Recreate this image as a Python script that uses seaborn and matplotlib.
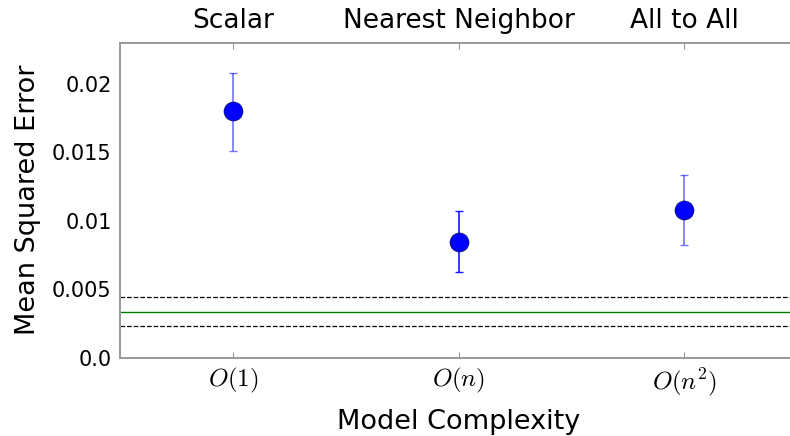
import matplotlib
matplotlib.use("Agg")
import matplotlib.pyplot as plt
import seaborn as sns
import pandas as pd
import numpy as np

categories = ["Scalar", "Nearest Neighbor", "All to All"]
complexity_labels = [r"$O(1)$", r"$O(n)$", r"$O(n^2)$"]
mse = [0.0180, 0.00842, 0.01080]
err_low = [0.0029, 0.00220, 0.00255]
err_high = [0.0028, 0.00225, 0.00250]
baseline = 0.00335
baseline_low = 0.00231
baseline_high = 0.00444
bar_alpha = [0.55, 0.9, 0.55]

sns.set_style("white")
plt.rcParams["mathtext.fontset"] = "cm"
plt.rcParams["font.family"] = ["DejaVu Sans"]
plt.rcParams["text.color"] = "black"
plt.rcParams["xtick.labelcolor"] = "black"
plt.rcParams["ytick.labelcolor"] = "black"
plt.rcParams["axes.labelcolor"] = "black"

fig = plt.figure(figsize=(7.9, 4.36), dpi=100)
ax = fig.add_axes([0.152, 0.180, 0.857, 0.722])

df = pd.DataFrame({"x": np.arange(len(categories)), "mse": mse, "cat": categories})

for i in range(len(categories)):
    ax.errorbar(df["x"][i], mse[i], yerr=[[err_low[i]], [err_high[i]]], fmt="none",
                ecolor="blue", alpha=bar_alpha[i], elinewidth=1.2, capsize=3, capthick=1, zorder=2)

sns.scatterplot(data=df, x="x", y="mse", ax=ax, color="blue", s=190,
                edgecolor="black", linewidth=0.3, zorder=3, legend=False)

ax.axhline(baseline, color="green", lw=1, zorder=1)
ax.axhline(baseline_low, color="black", lw=0.9, ls="--", zorder=1)
ax.axhline(baseline_high, color="black", lw=0.9, ls="--", zorder=1)

ax.set_xlim(-0.5, 2.5)
ax.set_ylim(0, 0.023)
ax.set_xticks(df["x"])
ax.set_xticklabels(complexity_labels, fontsize=18)
ax.set_yticks([0.0, 0.005, 0.01, 0.015, 0.02])
ax.set_yticklabels(["0.0", "0.005", "0.01", "0.015", "0.02"], fontsize=15)
ax.set_xlabel("Model Complexity", fontsize=19.5, labelpad=8)
ax.set_ylabel("Mean Squared Error", fontsize=19.5, labelpad=8)

ax2 = ax.twiny()
ax2.set_xlim(ax.get_xlim())
ax2.set_xticks(df["x"])
ax2.set_xticklabels(categories, fontsize=19)

for a in (ax, ax2):
    for s in a.spines.values():
        s.set_color("#999999")
        s.set_linewidth(1.2)
    a.tick_params(direction="in", length=4, color="#999999", pad=6)

fig.savefig("out.png", dpi=100)
